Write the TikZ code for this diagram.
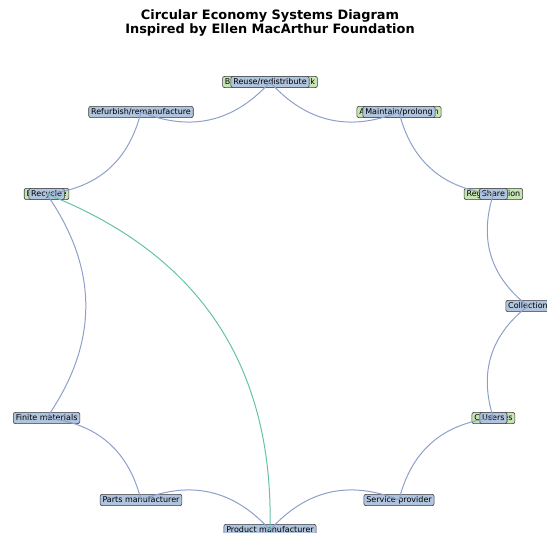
\documentclass[tikz,border=0pt]{standalone}
\usepackage{fontspec}
\setmainfont{DejaVu Sans}
\usetikzlibrary{calc}
\definecolor{edgeblue}{HTML}{8DA0CB}
\definecolor{edgeteal}{HTML}{66C2A5}
\definecolor{techfill}{HTML}{B0C4DE}
\definecolor{biofill}{HTML}{C6E4B4}
\definecolor{boxline}{HTML}{3A3A3A}
\tikzset{
  lbl/.style={draw=boxline, line width=0.6pt, rounded corners=2pt,
    font=\fontsize{8}{9}\selectfont, inner xsep=2.4pt, inner ysep=1.8pt,
    text height=6pt, text depth=1.6pt},
  tech/.style={lbl, fill=techfill},
  bio/.style={lbl, fill=biofill},
  flow/.style={draw=edgeblue, line width=1pt},
  flowbio/.style={draw=edgeteal, line width=1pt},
}
% quadratic arc bowing to the right of travel, drawn between two named nodes
\newcommand\arcedge[3][flow]{%
  \coordinate (ctl) at ($(#2.center)!0.5!(#3.center)!0.7!-90:(#3.center)$);
  \draw[#1] (#2.center) .. controls ($(#2.center)!2/3!(ctl)$)
    and ($(#3.center)!2/3!(ctl)$) .. (#3.center);}
\begin{document}
\begin{tikzpicture}[x=1pt,y=-1pt]
\useasboundingbox (0,0) rectangle (547,533);
\node[font=\bfseries\fontsize{12.9}{13.6}\selectfont, align=center] (title) at (270,23)
  {Circular Economy Systems Diagram\\Inspired by Ellen MacArthur Foundation};

% biological-cycle labels (partly covered)
\node[bio] (bfeed) at (270,82) {Biochemical feedstock};
\node[bio] (anaer) at (399,112) {Anaerobic digestion};
\node[bio] (regen) at (493.4,194) {Regeneration};
\node[bio] (casc)  at (493.4,418) {Cascades};
\node[bio] (bios)  at (46.6,194) {Biosphere};

% technical-cycle labels
\node[tech] (reuse)    at (270,82)    {Reuse/redistribute};
\node[tech] (maintain) at (399,112)   {Maintain/prolong};
\node[tech] (share)    at (493.4,194) {Share};
\node[tech] (collect)  at (528,306)   {Collection};
\node[tech] (users)    at (493.4,418) {Users};
\node[tech] (service)  at (399,500)   {Service provider};
\node[tech] (product)  at (270,530)   {Product manufacturer};
\node[tech] (parts)    at (141,500)   {Parts manufacturer};
\node[tech] (finite)   at (46.6,418)  {Finite materials};
\node[tech] (recycle)  at (46.6,194)  {Recycle};
\node[tech] (refurb)   at (141,112)   {Refurbish/remanufacture};

% connectors
\arcedge{reuse}{maintain}
\arcedge{maintain}{share}
\arcedge{share}{collect}
\arcedge{collect}{users}
\arcedge{users}{service}
\arcedge{service}{product}
\arcedge{product}{parts}
\arcedge{parts}{finite}
\arcedge{finite}{recycle}
\arcedge{recycle}{refurb}
\arcedge{refurb}{reuse}
\arcedge[flowbio]{product}{recycle}
\end{tikzpicture}
\end{document}
